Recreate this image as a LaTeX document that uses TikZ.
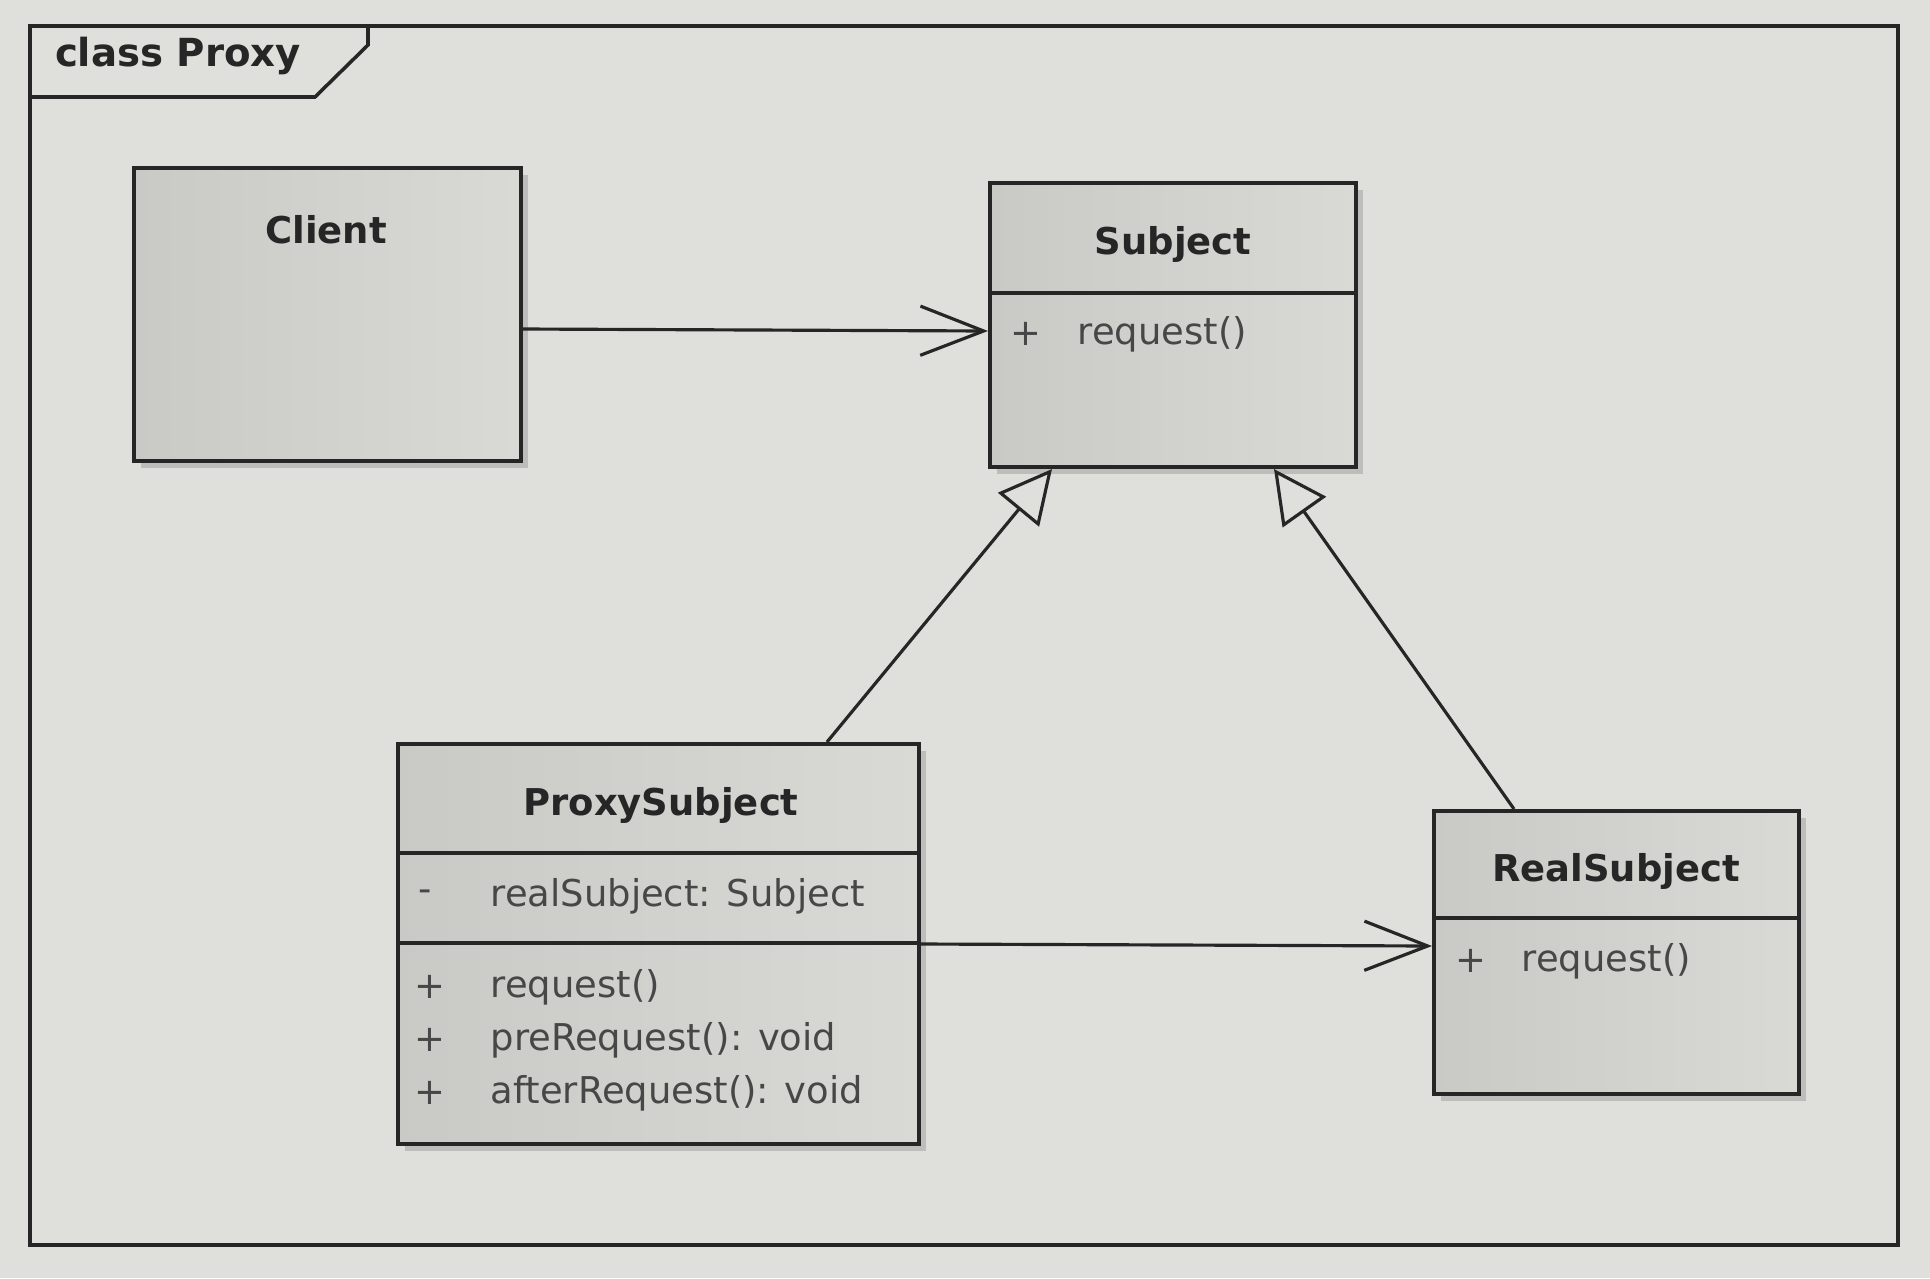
\documentclass[tikz,border=0pt]{standalone}
\usepackage{fontspec}
\setmainfont{DejaVu Sans}
\usetikzlibrary{arrows.meta,positioning,shadows,calc}
\definecolor{paper}{RGB}{223,223,219}
\definecolor{boxdark}{RGB}{201,201,198}
\definecolor{boxlight}{RGB}{217,217,213}
\definecolor{ink}{RGB}{38,38,38}
\tikzset{
  classbox/.style={draw=ink, line width=1.1pt, anchor=north west, inner sep=0pt,
    left color=boxdark, right color=boxlight,
    drop shadow={shadow xshift=2pt,shadow yshift=-2pt,opacity=.35}},
  classname/.style={font=\bfseries\fontsize{10.5}{12}\selectfont, text=ink},
  member/.style={font=\fontsize{10.5}{12}\selectfont, text=ink!85, anchor=west, inner sep=0pt},
  framename/.style={font=\bfseries\fontsize{11}{13}\selectfont, text=ink},
  assoc/.style={draw=ink, line width=0.9pt, -{Straight Barb[length=18pt,width=14pt,line width=0.9pt]}},
  gen/.style={draw=ink, line width=0.9pt, -{Triangle[open,length=15pt,width=15pt,line width=0.9pt]}},
}

\begin{document}
\begin{tikzpicture}[x=0.01cm,y=-0.01cm]
		\useasboundingbox (0,0) rectangle (1930,1278);
		\fill[paper] (0,0) rectangle (1930,1278);
		% frame
		\draw[ink, line width=1pt] (30,26) rectangle (1898,1245);
		\draw[ink, line width=1pt] (30,97) -- (315,97) -- (368,45) -- (368,26);
		\node (title) at (178,56)[framename] {class Proxy};
		% classes
		\node (client) at (132,166)[classbox, minimum width=3.87cm, minimum height=2.93cm] {};
		\node (subj) at (988,181)[classbox, minimum width=3.66cm, minimum height=2.84cm] {};
		\node (proxy) at (396,742)[classbox, minimum width=5.21cm, minimum height=4.00cm] {};
		\node (real) at (1432,809)[classbox, minimum width=3.65cm, minimum height=2.83cm] {};
		\draw[ink, line width=1.1pt] (subj.west |- 0,293) -- (subj.east |- 0,293);
		\draw[ink, line width=1.1pt] (proxy.west |- 0,853) -- (proxy.east |- 0,853);
		\draw[ink, line width=1.1pt] (proxy.west |- 0,943) -- (proxy.east |- 0,943);
		\draw[ink, line width=1.1pt] (real.west |- 0,918) -- (real.east |- 0,918);
		\node (clientname) at (326,230)[classname] {Client};
		\node (subjname) at (1173,244)[classname] {Subject};
		\node (proxyname) at (661,805)[classname] {ProxySubject};
		\node (realname) at (1616,871)[classname] {RealSubject};
		\node (subjvis) at (1010,334)[member] {+};
		\node (subjreq) at (1077,334)[member] {request()};
		\node (proxyvis) at (418,896)[member] {-};
		\node (proxyattr) at (490,896)[member] {realSubject: Subject};
		\node (proxyvisa) at (414,987)[member] {+};
		\node (proxyreq) at (490,987)[member] {request()};
		\node (proxyvisb) at (414,1040)[member] {+};
		\node (proxypre) at (490,1040)[member] {preRequest(): void};
		\node (proxyvisc) at (414,1093)[member] {+};
		\node (proxyafter) at (490,1093)[member] {afterRequest(): void};
		\node (realvis) at (1455,961)[member] {+};
		\node (realreq) at (1521,961)[member] {request()};
		% relations
		\draw[assoc] (client.east |- 0,329) -- (subj.west |- 0,331);
		\draw[assoc] (proxy.east |- 0,944) -- (real.west |- 0,946);
		\draw[gen] (proxy.north -| 827,0) -- (subj.south -| 1052,0);
		\draw[gen] (real.north -| 1514,0) -- (subj.south -| 1274,0);
\end{tikzpicture}
\end{document}
